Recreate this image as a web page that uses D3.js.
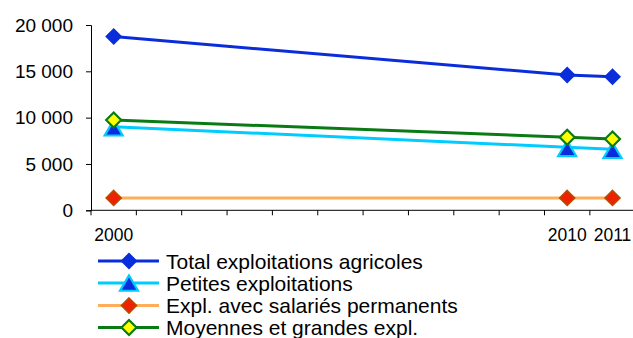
<!DOCTYPE html>
<html><head><meta charset="utf-8">
<script src="https://cdn.jsdelivr.net/npm/d3@7"></script>
<style>html,body{margin:0;padding:0;background:#fff;}svg{display:block;font-family:"Liberation Sans",Arial,sans-serif;}</style>
</head><body>
<svg id="c" width="633" height="338"></svg>
<script>
const years = ["2000","2001","2002","2003","2004","2005","2006","2007","2008","2009","2010","2011"];
const dataYears = ["2000","2010","2011"];
const seriesNames = ["Total exploitations agricoles","Petites exploitations","Expl. avec salariés permanents","Moyennes et grandes expl."];
const totalVals = [18750, 14600, 14420];
const petitesVals = [9020, 6800, 6590];
const salariesVals = [1330, 1330, 1330];
const moyennesVals = [9750, 7880, 7700];
const yTicks = [0, 5000, 10000, 15000, 20000];
const yTickLabels = ["0", "5\u00a0000", "10\u00a0000", "15\u00a0000", "20\u00a0000"];

const svg = d3.select("#c");
const x = d3.scaleBand().domain(years).range([91, 635.2]);
const y = d3.scaleLinear().domain([0, 20000]).range([210.3, 25]);

const styles = [
  {line:"#0a2ddc", width:3, marker:"diamond", r:8.5, fill:"#0a2ddc", stroke:"#0a2ddc", sw:0},
  {line:"#00ccff", width:3, marker:"triangle", r:9, fill:"#0a2ddc", stroke:"#00ccff", sw:2.2},
  {line:"#ffad5a", width:3, marker:"diamond", r:7.5, fill:"#ee2200", stroke:"#b84a00", sw:1.6},
  {line:"#0a7a14", width:3, marker:"diamond", r:7.5, fill:"#ffff00", stroke:"#0a7a14", sw:2.2}
];
const allVals = [totalVals, petitesVals, salariesVals, moyennesVals];

// axes
const yAxis = d3.axisLeft(y).tickValues(yTicks).tickFormat((d,i)=>yTickLabels[i]).tickSize(5).tickPadding(13);
const gy = svg.append("g").attr("transform","translate(91,0)").call(yAxis);
gy.select(".domain").attr("stroke","#000").attr("stroke-width",1);
gy.selectAll(".tick line").attr("stroke","#000");
gy.selectAll("text").attr("font-size","19px").attr("fill","#000").attr("font-family","Liberation Sans, Arial, sans-serif");

const xTickPos = years.map((d)=>x(d)).concat([x.range()[1]]);
const gx = svg.append("g").attr("transform","translate(0,210.3)");
gx.append("line").attr("x1",91).attr("x2",635).attr("stroke","#000");
gx.selectAll("line.t").data(xTickPos).enter().append("line").attr("class","t")
  .attr("x1",d=>d).attr("x2",d=>d).attr("y1",0).attr("y2",5).attr("stroke","#000");
gx.selectAll("text").data(dataYears).enter().append("text")
  .attr("x",d=>x(d)+x.bandwidth()/2).attr("y",31).attr("text-anchor","middle")
  .attr("font-size","17.5px").attr("fill","#000").text(d=>d);

function marker(g, s, cx, cy){
  if(s.marker==="diamond"){
    const r=s.r;
    g.append("path").attr("d",`M${cx},${cy-r}L${cx+r},${cy}L${cx},${cy+r}L${cx-r},${cy}Z`)
      .attr("fill",s.fill).attr("stroke",s.stroke).attr("stroke-width",s.sw).attr("stroke-linejoin","miter");
  } else {
    const r=s.r;
    g.append("path").attr("d",`M${cx},${cy-r*0.95}L${cx+r},${cy+r*0.75}L${cx-r},${cy+r*0.75}Z`)
      .attr("fill",s.fill).attr("stroke",s.stroke).attr("stroke-width",s.sw).attr("stroke-linejoin","miter");
  }
}

const line = d3.line().x(d=>x(d.year)+x.bandwidth()/2).y(d=>y(d.v));
const order = [2,1,3,0];
order.forEach(i=>{
  const pts = dataYears.map((yr,j)=>({year:yr, v:allVals[i][j]}));
  svg.append("path").datum(pts).attr("d",line).attr("fill","none")
    .attr("stroke",styles[i].line).attr("stroke-width",styles[i].width);
});
order.forEach(i=>{
  const g = svg.append("g");
  dataYears.forEach((yr,j)=>{
    const cy = y(allVals[i][j]) + (styles[i].marker==="triangle"?2:0);
    marker(g, styles[i], x(yr)+x.bandwidth()/2, cy);
  });
});

// legend
const legY = [261, 283, 305.5, 327.5];
seriesNames.forEach((name,i)=>{
  const g = svg.append("g");
  g.append("line").attr("x1",98).attr("x2",159).attr("y1",legY[i]).attr("y2",legY[i])
    .attr("stroke",styles[i].line).attr("stroke-width",styles[i].width);
  marker(g, styles[i], 129, legY[i] + (styles[i].marker==="triangle"?1:0));
  g.append("text").attr("x",166).attr("y",legY[i]+7.5).attr("font-size","21px").attr("fill","#000").text(name);
});
</script>
</body></html>
